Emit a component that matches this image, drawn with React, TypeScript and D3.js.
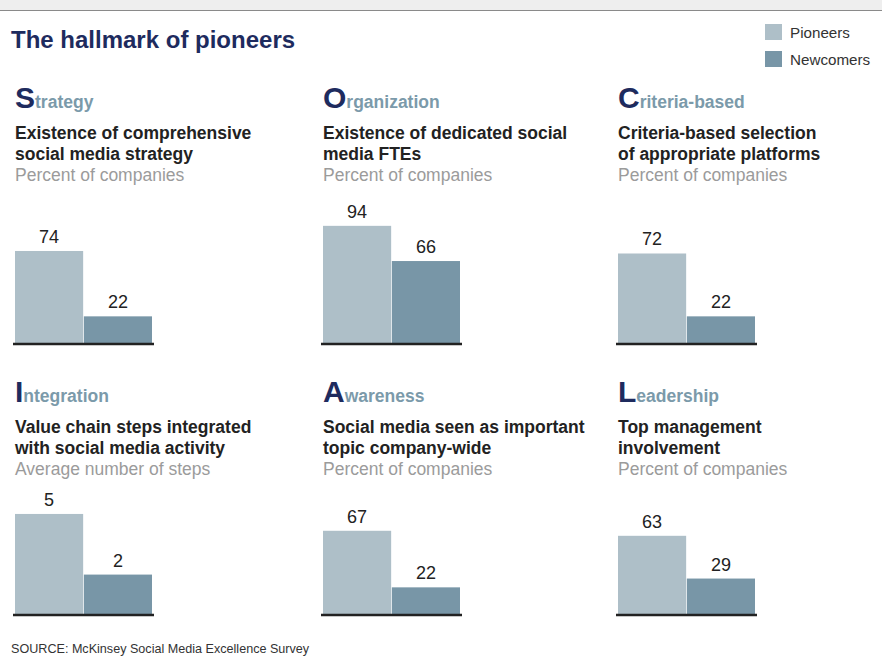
import React from "react";
import { scaleBand, scaleLinear } from "d3";

// Datos de los paneles
const initials = ["S", "O", "C", "I", "A", "L"];
const headings = ["trategy", "rganization", "riteria-based", "ntegration", "wareness", "eadership"];
const subtitles = [
  ["Existence of comprehensive", "social media strategy"],
  ["Existence of dedicated social", "media FTEs"],
  ["Criteria-based selection", "of appropriate platforms"],
  ["Value chain steps integrated", "with social media activity"],
  ["Social media seen as important", "topic company-wide"],
  ["Top management", "involvement"],
];
const units = [
  "Percent of companies",
  "Percent of companies",
  "Percent of companies",
  "Average number of steps",
  "Percent of companies",
  "Percent of companies",
];
const pioneers = [74, 94, 72, 5, 67, 63];
const newcomers = [22, 66, 22, 2, 22, 29];
const domainMax = [100, 100, 100, 6.22, 100, 100];
const series = ["Pioneers", "Newcomers"];

const colors = { Pioneers: "#aebfc8", Newcomers: "#7896a7" };
const navy = "#1e2b5e";
const font = "'Liberation Sans', Arial, sans-serif";

const colX = [15, 323, 618];
const headY = [108, 402];
const baseY = [344, 615];
const chartH = 125.7;

const Panel: React.FC<{ i: number }> = ({ i }) => {
  const x0 = colX[i % 3];
  const row = Math.floor(i / 3);
  const hy = headY[row];
  const by = baseY[row];

  const x = scaleBand<string>().domain(series).range([x0, x0 + 137]).paddingInner(0.01);
  const y = scaleLinear().domain([0, domainMax[i]]).range([by, by - chartH]);
  const vals = [pioneers[i], newcomers[i]];

  return (
    <g>
      <text x={x0} y={hy} fontFamily={font} fontWeight="bold">
        <tspan fontSize={30} fill={navy}>{initials[i]}</tspan>
        <tspan fontSize={17.5} fill="#7b9aaa">{headings[i]}</tspan>
      </text>
      {subtitles[i].map((s, k) => (
        <text key={k} x={x0} y={hy + 31 + k * 21} fontFamily={font} fontWeight="bold" fontSize={17.5} fill="#222">
          {s}
        </text>
      ))}
      <text x={x0} y={hy + 73} fontFamily={font} fontSize={17.5} fill="#9b9b9b">
        {units[i]}
      </text>
      {series.map((s, k) => (
        <g key={s}>
          <rect
            x={x(s)}
            y={y(vals[k])}
            width={x.bandwidth()}
            height={by - y(vals[k])}
            fill={colors[s as keyof typeof colors]}
          />
          <text
            x={(x(s) ?? 0) + x.bandwidth() / 2}
            y={y(vals[k]) - 8}
            textAnchor="middle"
            fontFamily={font}
            fontSize={18}
            fill="#222"
          >
            {vals[k]}
          </text>
        </g>
      ))}
      <line x1={x0 - 2} x2={x0 + 139} y1={by} y2={by} stroke="#222" strokeWidth={2.5} />
    </g>
  );
};

const App: React.FC = () => {
  return (
    <svg
      width={882}
      height={659}
      style={{ position: "absolute", left: 0, top: 0, background: "#fff" }}
    >
      <rect x={0} y={0} width={882} height={10} fill="#eeeeee" />
      <line x1={0} x2={882} y1={10.5} y2={10.5} stroke="#8a8a8a" strokeWidth={1} />

      <text x={11} y={48} fontFamily={font} fontWeight="bold" fontSize={24} fill={navy}>
        The hallmark of pioneers
      </text>

      {/* Leyenda */}
      {series.map((s, k) => (
        <g key={s}>
          <rect x={765} y={24 + k * 27} width={17} height={16} fill={colors[s as keyof typeof colors]} />
          <text x={790} y={38 + k * 27} fontFamily={font} fontSize={15.2} fill="#333">
            {s}
          </text>
        </g>
      ))}

      {initials.map((_, i) => (
        <Panel key={i} i={i} />
      ))}

      <text x={11} y={653} fontFamily={font} fontSize={12.6} fill="#333">
        SOURCE: McKinsey Social Media Excellence Survey
      </text>
    </svg>
  );
};

export default App;
